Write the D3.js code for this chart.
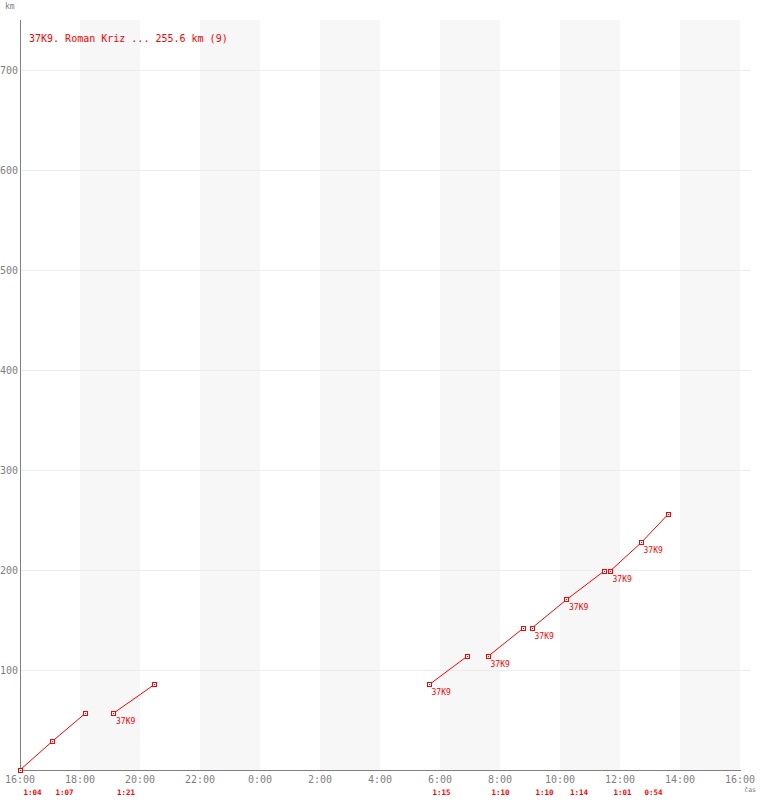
<!DOCTYPE html>
<html>
<head>
<meta charset="utf-8">
<script src="https://cdn.jsdelivr.net/npm/d3@7"></script>
<style>
  html, body { margin: 0; padding: 0; background: #fff; }
  svg { display: block; }
  text { font-family: "DejaVu Sans Mono", monospace; }
</style>
</head>
<body>
<svg id="chart" width="760" height="800"></svg>
<script>
// ---- data ----
const title = "37K9. Roman Kriz ... 255.6 km (9)";
const legStart = ["16:00", "17:04", "19:07", "05:38", "07:36", "09:04", "10:13", "11:40", "12:42"];
const legEnd   = ["17:04", "18:11", "20:28", "06:54", "08:47", "10:13", "11:28", "12:42", "13:36"];
const legKmStart = [0, 28.4, 56.8, 85.2, 113.6, 142.0, 170.4, 198.8, 227.2];
const legKmEnd   = [28.4, 56.8, 85.2, 113.6, 142.0, 170.4, 198.8, 227.2, 255.6];
const legDuration = ["1:04", "1:07", "1:21", "1:15", "1:10", "1:10", "1:14", "1:01", "0:54"];
const legLabel = ["", "", "37K9", "37K9", "37K9", "37K9", "37K9", "37K9", "37K9"];
const yTicks = [100, 200, 300, 400, 500, 600, 700];
const xTickLabels = ["16:00", "18:00", "20:00", "22:00", "0:00", "2:00", "4:00", "6:00", "8:00", "10:00", "12:00", "14:00", "16:00"];
const yLabel = "km";
const xLabel = "čas";

// ---- helpers ----
const day0 = new Date(2024, 0, 1, 16, 0);
const day1 = new Date(2024, 0, 2, 16, 0);
function parseT(s) {
  const [h, m] = s.split(":").map(Number);
  return new Date(2024, 0, h < 16 ? 2 : 1, h, m);
}

const svg = d3.select("#chart");
const x = d3.scaleTime().domain([day0, day1]).range([20, 740]);
const y = d3.scaleLinear().domain([0, 750]).range([770, 20]);

const red = "#ff0000";
const gray = "#808080";

// ---- alternating bands (2-hour) ----
const bandStarts = d3.range(1, 12, 2).map(i => d3.timeHour.offset(day0, i * 2));
svg.append("g").selectAll("rect").data(bandStarts).join("rect")
  .attr("x", d => x(d))
  .attr("y", y(750))
  .attr("width", d => x(d3.timeHour.offset(d, 2)) - x(d))
  .attr("height", y(0) - y(750))
  .attr("fill", "#f7f7f7");

// ---- horizontal gridlines ----
svg.append("g").selectAll("line").data(yTicks).join("line")
  .attr("x1", 20).attr("x2", 751)
  .attr("y1", d => y(d) + 0.5).attr("y2", d => y(d) + 0.5)
  .attr("stroke", "#ececec").attr("stroke-width", 1);

// ---- axes lines ----
svg.append("line").attr("x1", 20.5).attr("x2", 20.5).attr("y1", y(750)).attr("y2", y(0) + 1)
  .attr("stroke", gray).attr("stroke-width", 1);
svg.append("line").attr("x1", 20).attr("x2", 741).attr("y1", y(0) + 0.5).attr("y2", y(0) + 0.5)
  .attr("stroke", gray).attr("stroke-width", 1);

// ---- y tick labels ----
svg.append("g").selectAll("text").data(yTicks).join("text")
  .attr("x", 18).attr("y", d => y(d) + 4)
  .attr("text-anchor", "end")
  .attr("font-size", "10px").attr("fill", gray)
  .text(d => d);

// ---- x tick labels ----
const xTickDates = d3.range(0, 13).map(i => d3.timeHour.offset(day0, i * 2));
svg.append("g").selectAll("text").data(xTickDates).join("text")
  .attr("x", d => x(d)).attr("y", 783)
  .attr("text-anchor", "middle")
  .attr("font-size", "10px").attr("fill", gray)
  .text((d, i) => xTickLabels[i]);

// axis names
svg.append("text").attr("x", 5).attr("y", 9).attr("font-size", "8px").attr("fill", gray).text(yLabel);
svg.append("text").attr("x", 756).attr("y", 792).attr("text-anchor", "end")
  .attr("font-size", "6.5px").attr("fill", gray).text(xLabel);

// ---- title ----
svg.append("text").attr("x", 29).attr("y", 41.5).attr("font-size", "10px").attr("fill", red).text(title);

// ---- legs ----
const legs = legStart.map((s, i) => ({
  t0: parseT(s), t1: parseT(legEnd[i]),
  k0: legKmStart[i], k1: legKmEnd[i],
  dur: legDuration[i], label: legLabel[i]
}));

const gLegs = svg.append("g");
gLegs.selectAll("line").data(legs).join("line")
  .attr("x1", d => x(d.t0)).attr("y1", d => y(d.k0))
  .attr("x2", d => x(d.t1)).attr("y2", d => y(d.k1))
  .attr("stroke", red).attr("stroke-width", 1);

const pts = [];
legs.forEach(d => { pts.push({t: d.t0, k: d.k0}); pts.push({t: d.t1, k: d.k1}); });
const gPts = svg.append("g").attr("shape-rendering", "crispEdges");
gPts.selectAll("rect.m").data(pts).join("rect").attr("class", "m")
  .attr("x", d => Math.floor(x(d.t)) - 1.5).attr("y", d => Math.floor(y(d.k)) - 1.5)
  .attr("width", 4).attr("height", 4)
  .attr("fill", "#fff").attr("stroke", red).attr("stroke-width", 1);
gPts.selectAll("rect.c").data(pts).join("rect").attr("class", "c")
  .attr("x", d => Math.floor(x(d.t))).attr("y", d => Math.floor(y(d.k)))
  .attr("width", 1).attr("height", 1)
  .attr("fill", red);

// point labels
svg.append("g").selectAll("text").data(legs.filter(d => d.label)).join("text")
  .attr("x", d => x(d.t0) + 2.5).attr("y", d => y(d.k0) + 10.5)
  .attr("font-size", "8px").attr("fill", red)
  .text(d => d.label);

// duration labels
svg.append("g").selectAll("text").data(legs).join("text")
  .attr("x", d => x(d.t0) + 3.5).attr("y", 795)
  .attr("font-size", "7.5px").attr("font-weight", "bold").attr("fill", red)
  .text(d => d.dur);
</script>
</body>
</html>
